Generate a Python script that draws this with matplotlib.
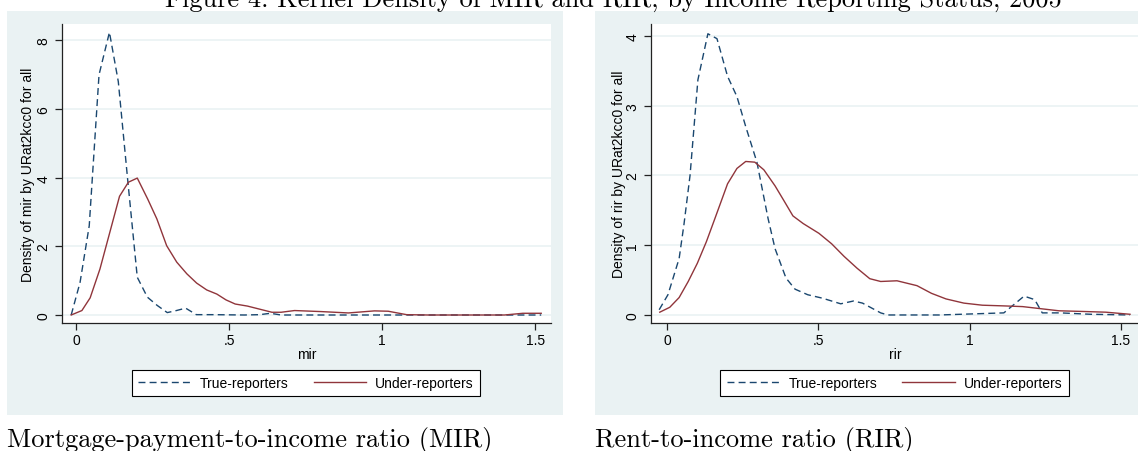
import matplotlib
matplotlib.use("Agg")
import matplotlib.pyplot as plt
from matplotlib.patches import Rectangle
from matplotlib.lines import Line2D

W, H = 1138, 452

# MIR panel
mir_true_x = [-0.016, 0.013, 0.043, 0.075, 0.109, 0.138, 0.168, 0.200, 0.233, 0.265,
              0.298, 0.328, 0.358, 0.393, 0.45, 0.55, 0.60, 0.635, 0.67, 0.75,
              0.9, 1.1, 1.3, 1.52]
mir_true_y = [0.0, 0.95, 2.6, 7.0, 8.24, 6.8, 4.0, 1.1, 0.52, 0.28,
              0.07, 0.13, 0.2, 0.01, 0.01, 0.0, 0.01, 0.05, 0.0, 0.0,
              0.0, 0.0, 0.0, 0.0]
mir_under_x = [-0.016, 0.019, 0.046, 0.078, 0.11, 0.142, 0.171, 0.200, 0.234, 0.264,
               0.296, 0.329, 0.362, 0.394, 0.427, 0.46, 0.49, 0.52, 0.56, 0.60,
               0.64, 0.67, 0.714, 0.8, 0.89, 0.975, 1.02, 1.08, 1.15, 1.3,
               1.4, 1.46, 1.52]
mir_under_y = [0.0, 0.13, 0.5, 1.34, 2.4, 3.46, 3.87, 3.99, 3.38, 2.8,
               2.02, 1.54, 1.2, 0.93, 0.73, 0.61, 0.44, 0.32, 0.26, 0.17,
               0.08, 0.08, 0.13, 0.1, 0.06, 0.12, 0.11, 0.01, 0.0, 0.0,
               0.0, 0.05, 0.05]

# RIR panel
rir_true_x = [-0.026, 0.003, 0.04, 0.056, 0.076, 0.102, 0.135, 0.165, 0.2, 0.231,
              0.26, 0.297, 0.334, 0.357, 0.393, 0.423, 0.465, 0.514, 0.574, 0.616,
              0.646, 0.706, 0.73, 0.9, 1.113, 1.18, 1.215, 1.24, 1.3, 1.4, 1.53]
rir_true_y = [0.075, 0.29, 0.81, 1.3, 2.0, 3.37, 4.03, 3.96, 3.42, 3.13,
              2.7, 2.19, 1.38, 0.95, 0.53, 0.37, 0.29, 0.24, 0.16, 0.2,
              0.17, 0.03, 0.0, 0.0, 0.03, 0.27, 0.22, 0.03, 0.03, 0.01, 0.0]
rir_under_x = [-0.024, 0.009, 0.04, 0.07, 0.1, 0.13, 0.158, 0.2, 0.231, 0.26,
               0.29, 0.32, 0.357, 0.386, 0.416, 0.45, 0.502, 0.544, 0.585, 0.628,
               0.67, 0.706, 0.76, 0.826, 0.874, 0.922, 0.981, 1.042, 1.114, 1.175,
               1.235, 1.295, 1.377, 1.45, 1.53]
rir_under_y = [0.04, 0.11, 0.25, 0.48, 0.74, 1.05, 1.38, 1.88, 2.1, 2.2,
               2.19, 2.08, 1.85, 1.64, 1.42, 1.31, 1.17, 1.02, 0.84, 0.67,
               0.52, 0.48, 0.49, 0.42, 0.31, 0.23, 0.17, 0.14, 0.13, 0.12,
               0.09, 0.06, 0.05, 0.04, 0.01]

xticks = [0, 0.5, 1, 1.5]
xticklabels = ["0", ".5", "1", "1.5"]
mir_yticks = [0, 2, 4, 6, 8]
rir_yticks = [0, 1, 2, 3, 4]

title = "Figure 4: Kernel Density of MIR and RIR, by Income Reporting Status, 2005"
captions = ["Mortgage-payment-to-income ratio (MIR)", "Rent-to-income ratio (RIR)"]
labels = ["True-reporters", "Under-reporters"]

NAVY = "#1A476F"
MAROON = "#90353B"
BG = "#EAF2F3"
FS = 10

plt.rcParams['font.family'] = ['Liberation Sans', 'DejaVu Sans']

fig = plt.figure(figsize=(W / 100, H / 100), dpi=100)


def px_axes(left, top, right, bottom):
    return fig.add_axes([left / W, 1 - bottom / H, (right - left) / W, (bottom - top) / H])


panels = [
    dict(bg=(7, 12, 563, 416), box=(62, 25, 551, 324), xlim=(-0.046, 1.552),
         ylim=(-0.233, 8.48), yticks=mir_yticks, xlab="mir",
         ylab="Density of mir by URat2kcc0 for all",
         true=(mir_true_x, mir_true_y), under=(mir_under_x, mir_under_y),
         legx=306, ylabx=28, cap=captions[0], capx=7),
    dict(bg=(595, 12, 1151, 416), box=(651, 25, 1140, 324), xlim=(-0.053, 1.563),
         ylim=(-0.115, 4.17), yticks=rir_yticks, xlab="rir",
         ylab="Density of rir by URat2kcc0 for all",
         true=(rir_true_x, rir_true_y), under=(rir_under_x, rir_under_y),
         legx=894.5, ylabx=619, cap=captions[1], capx=595),
]

for p in panels:
    l, t, r, b = p["bg"]
    fig.add_artist(Rectangle((l / W, 1 - b / H), (r - l) / W, (b - t) / H,
                             transform=fig.transFigure, facecolor=BG,
                             edgecolor="none", zorder=-5))
    ax = px_axes(*p["box"])
    ax.set_facecolor("white")
    ax.plot(p["true"][0], p["true"][1], color=NAVY, lw=1.0, dashes=(5, 3))
    ax.plot(p["under"][0], p["under"][1], color=MAROON, lw=1.0)
    ax.set_xlim(*p["xlim"])
    ax.set_ylim(*p["ylim"])
    ax.set_xticks(xticks)
    ax.set_xticklabels(xticklabels)
    ax.set_yticks(p["yticks"])
    ax.set_yticklabels([str(v) for v in p["yticks"]], rotation=90, va="center")
    ax.grid(axis="y", color=BG, lw=1.2)
    ax.set_axisbelow(True)
    for s in ["top", "right"]:
        ax.spines[s].set_visible(False)
    for s in ["left", "bottom"]:
        ax.spines[s].set_color("#222222")
        ax.spines[s].set_linewidth(0.9)
    ax.tick_params(direction="out", length=5, width=0.9, color="#222222",
                   labelsize=FS)
    ax.tick_params(axis="y", pad=3.5)
    ax.tick_params(axis="x", pad=2.5)
    ax.set_xlabel(p["xlab"], fontsize=FS, va="center")
    ax.xaxis.set_label_coords(0.5, (324 - 355) / 299)
    ax.set_ylabel(p["ylab"], fontsize=FS, va="center", ha="center")
    ax.yaxis.set_label_coords((p["ylabx"] - p["box"][0]) / 489, 0.5)

    handles = [Line2D([], [], color=NAVY, lw=1.0, dashes=(5, 3)),
               Line2D([], [], color=MAROON, lw=1.0)]
    leg = ax.legend(handles, labels, loc="center",
                    bbox_to_anchor=(p["legx"] / W, 1 - 384 / H),
                    bbox_transform=fig.transFigure, ncol=2, frameon=True,
                    fancybox=False, edgecolor="black", framealpha=1,
                    handlelength=3.8, handletextpad=0.65, columnspacing=1.8,
                    borderpad=0.45, fontsize=FS)
    leg.get_frame().set_linewidth(0.8)

    fig.text(p["capx"] / W, 1 - 447 / H, p["cap"], family="cmr10",
             fontsize=19, va="baseline")

fig.text(613 / W, 1 - 7 / H, title, family="cmr10", fontsize=19,
         ha="center", va="baseline")

fig.savefig("out.png", dpi=100)
